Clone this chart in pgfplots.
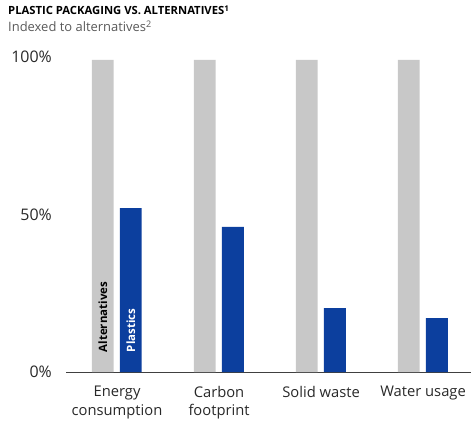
\documentclass[border=0pt]{standalone}
\usepackage{pgfplots}
\pgfplotsset{compat=1.18}
\usepackage{fontspec}
\setmainfont{Open Sans}
\definecolor{altgray}{RGB}{200,200,200}
\definecolor{plblue}{RGB}{12,63,158}
\definecolor{txt}{RGB}{40,40,40}
\begin{document}
\begin{tikzpicture}[x=1bp,y=1bp]
\useasboundingbox (0,0) rectangle (471,421);
\node[anchor=base west,inner sep=0,font=\bfseries\fontsize{11.3}{13}\selectfont,text=black] at (8,406) {PLASTIC PACKAGING VS. ALTERNATIVES\textsuperscript{1}};
\node[anchor=base west,inner sep=0,font=\fontsize{13}{15}\selectfont,text=black!65] at (8,389) {Indexed to alternatives\textsuperscript{2}};
\begin{axis}[
  at={(66bp,49bp)}, anchor=south west,
  scale only axis, width=405bp, height=312bp,
  xmin=-0.5, xmax=3.47, ymin=0, ymax=100,
  axis x line*=bottom, axis y line=none,
  x axis line style={draw=black!75, line width=0.8pt, -},
  ytick={0,50,100}, yticklabels={0\%,50\%,100\%},
  xtick={0,1,2,3},
  xticklabels={Energy\\consumption,Carbon\\footprint,Solid waste,Water usage},
  xticklabel style={align=center, font=\fontsize{14.8}{18.5}\selectfont, text=txt, yshift=-6.5bp},
  major tick style={draw=none},
  ybar, bar width=0.215,
  clip=false,
]
\addplot[fill=altgray, draw=none, bar shift=-0.14] coordinates {(0,100) (1,100) (2,100) (3,100)};
\addplot[fill=plblue, draw=none, bar shift=0.135] coordinates {(0,52.5) (1,46.5) (2,20.5) (3,17.3)};
\node[rotate=90, anchor=west, inner sep=0, font=\bfseries\fontsize{11.5}{13}\selectfont, text=black] at (axis cs:-0.14,6.3) {Alternatives};
\node[rotate=90, anchor=west, inner sep=0, font=\bfseries\fontsize{11.5}{13}\selectfont, text=white] at (axis cs:0.135,6.3) {Plastics};
\end{axis}
\node[anchor=base east, inner sep=0, font=\fontsize{16}{18}\selectfont, text=txt] at (52,44) {0\%};
\node[anchor=base east, inner sep=0, font=\fontsize{16}{18}\selectfont, text=txt] at (52,201) {50\%};
\node[anchor=base east, inner sep=0, font=\fontsize{16}{18}\selectfont, text=txt] at (52,359) {100\%};
\end{tikzpicture}
\end{document}
